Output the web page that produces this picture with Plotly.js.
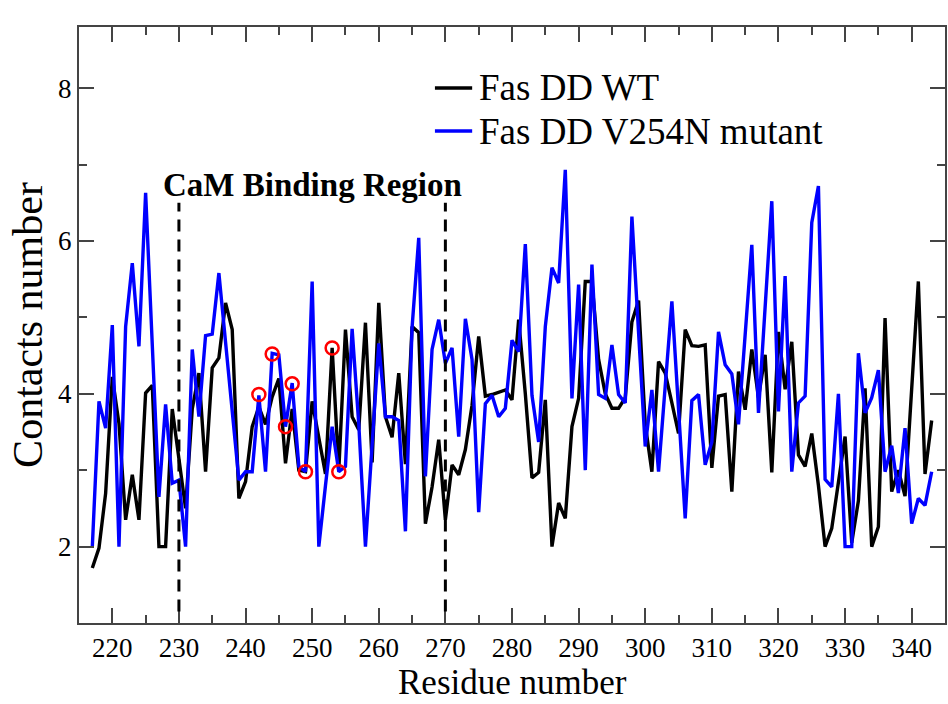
<!DOCTYPE html>
<html>
<head>
<meta charset="utf-8">
<script src="https://cdn.plot.ly/plotly-3.0.1.min.js"></script>
<style>html,body{margin:0;padding:0;background:#fff;}#chart{width:948px;height:704px;}</style>
</head>
<body>
<div id="chart"></div>
<script>
// Residue numbers
const residues = [];
for (let r = 217; r <= 343; r++) residues.push(r);

// Fas DD WT contacts
const wtContacts = [
  1.72, 1.98, 2.70, 4.22, 3.61, 2.35, 2.94, 2.35, 4.01, 4.11,
  2.00, 2.00, 3.80, 3.15, 2.50, 3.80, 4.27, 2.98, 4.34, 4.47,
  5.19, 4.84, 2.63, 2.85, 3.57, 3.83, 3.60, 3.96, 4.20, 3.09,
  3.80, 3.00, 2.98, 3.90, 3.40, 2.95, 4.60, 3.00, 4.84, 3.70,
  3.53, 4.93, 3.10, 5.19, 3.70, 3.43, 4.27, 3.08, 4.88, 4.80,
  2.30, 2.78, 3.40, 2.35, 3.07, 2.94, 3.27, 3.85, 4.75, 3.97,
  3.99, 4.02, 4.05, 3.92, 4.97, 4.00, 2.90, 2.97, 3.92, 2.00,
  2.57, 2.37, 3.57, 3.94, 5.47, 5.47, 4.45, 4.00, 3.81, 3.81,
  3.95, 4.94, 5.22, 3.60, 2.98, 4.42, 4.27, 3.88, 3.48, 4.84,
  4.63, 4.62, 4.64, 3.03, 3.97, 3.99, 2.72, 4.29, 3.79, 4.58,
  3.95, 4.51, 2.97, 4.81, 4.06, 4.68, 3.20, 3.05, 3.48, 2.80,
  2.00, 2.24, 2.85, 3.44, 2.05, 2.60, 4.07, 2.00, 2.26, 4.99,
  2.72, 3.00, 2.66, 4.10, 5.47, 2.95, 3.65
];

// Fas DD V254N mutant contacts
const mutContacts = [
  2.00, 3.90, 3.55, 4.90, 2.00, 4.88, 5.71, 4.62, 6.63, 4.60,
  2.65, 3.86, 2.83, 2.87, 2.00, 4.58, 3.70, 4.76, 4.78, 5.58,
  4.66, 3.79, 2.87, 2.98, 2.98, 3.98, 2.98, 4.53, 4.51, 3.57,
  4.14, 3.05, 2.98, 5.47, 2.00, 2.80, 3.57, 2.98, 3.05, 4.85,
  3.60, 2.00, 3.33, 4.66, 3.70, 3.70, 3.65, 2.20, 4.87, 6.04,
  2.92, 4.58, 4.97, 4.40, 4.60, 3.44, 4.98, 4.45, 2.45, 3.87,
  3.98, 3.70, 3.81, 4.70, 4.55, 5.96, 3.98, 3.37, 4.88, 5.65,
  5.45, 6.93, 3.94, 5.43, 3.00, 5.69, 3.99, 3.94, 4.64, 3.99,
  3.88, 6.32, 4.80, 3.31, 4.05, 2.98, 4.10, 5.21, 3.80, 2.37,
  3.91, 3.99, 3.07, 3.37, 4.81, 4.38, 4.26, 3.60, 4.77, 5.95,
  3.75, 5.10, 6.52, 3.77, 5.54, 2.98, 3.88, 3.97, 6.24, 6.72,
  2.88, 2.78, 4.00, 2.00, 2.00, 4.53, 3.75, 3.95, 4.31, 2.98,
  3.32, 2.70, 3.55, 2.30, 2.63, 2.54, 2.98
];

// Highlighted residues (red circles)
const circleResidues = [242, 244, 246, 247, 249, 253, 254];
const circleValues = [3.99, 4.52, 3.57, 4.13, 2.98, 4.60, 2.98];

// CaM binding region boundaries
const regionBounds = [230, 270];
const regionLineSpan = [1.15, 6.5];
const regionLabel = 'CaM Binding Region';

const seriesNames = ['Fas DD WT', 'Fas DD V254N mutant'];
const seriesColors = ['#000000', '#0000ff'];
const xTitle = 'Residue number';
const yTitle = 'Contacts number';

const serif = 'Liberation Serif';

const traces = [
  {x: residues, y: wtContacts, type: 'scatter', mode: 'lines', name: seriesNames[0],
   line: {color: seriesColors[0], width: 3.4}, showlegend: false},
  {x: residues, y: mutContacts, type: 'scatter', mode: 'lines', name: seriesNames[1],
   line: {color: seriesColors[1], width: 3.4}, showlegend: false},
  {x: circleResidues, y: circleValues, type: 'scatter', mode: 'markers', showlegend: false,
   marker: {symbol: 'circle-open', size: 13, color: '#ff0000', line: {width: 2.5, color: '#ff0000'}}}
];

// Legend (drawn in paper coordinates)
const legendRowsY = [0.8977, 0.8255];
const legendLineX = [0.411, 0.454];
const legendTextX = 0.461;

const shapes = regionBounds.map(b => ({
  type: 'line', xref: 'x', yref: 'y', x0: b, x1: b, y0: regionLineSpan[0], y1: regionLineSpan[1],
  line: {color: '#000', width: 3, dash: '12px,8px'}
}));
seriesNames.forEach((n, i) => {
  shapes.push({type: 'line', xref: 'paper', yref: 'paper',
    x0: legendLineX[0], x1: legendLineX[1], y0: legendRowsY[i], y1: legendRowsY[i],
    line: {color: seriesColors[i], width: 3.4}});
});

const annotations = [{
  x: (regionBounds[0] + regionBounds[1]) / 2, y: 6.73, xref: 'x', yref: 'y',
  text: '<b>' + regionLabel + '</b>', showarrow: false,
  font: {family: serif, size: 33, color: '#000'}
}, {
  x: 0.5, y: -0.0654, xref: 'paper', yref: 'paper', xanchor: 'center', yanchor: 'top',
  text: xTitle, showarrow: false, borderpad: 0,
  font: {family: serif, size: 35, color: '#000'}
}];
seriesNames.forEach((n, i) => {
  annotations.push({x: legendTextX, y: legendRowsY[i], xref: 'paper', yref: 'paper',
    xanchor: 'left', yanchor: 'middle', text: n, showarrow: false, borderpad: 0,
    font: {family: serif, size: 37, color: '#000'}});
});

const axisCommon = {
  showline: true, mirror: 'allticks', linecolor: '#444', linewidth: 2,
  ticks: 'inside', ticklen: 15, tickwidth: 2, tickcolor: '#444',
  showgrid: false, zeroline: false,
  tickfont: {family: serif, size: 27, color: '#000'}
};

const layout = {
  width: 948, height: 704,
  margin: {l: 79, r: 3, t: 27, b: 81},
  font: {family: serif, color: '#000'},
  paper_bgcolor: '#fff', plot_bgcolor: '#fff',
  xaxis: Object.assign({}, axisCommon, {
    range: [215, 345], dtick: 10, tick0: 0, ticklabelstandoff: 0,
    minor: {dtick: 5, ticklen: 8, tickwidth: 2, tickcolor: '#444', ticks: 'inside'}
  }),
  yaxis: Object.assign({}, axisCommon, {
    range: [1, 8.8], dtick: 2, tick0: 0,
    minor: {dtick: 1, ticklen: 8, tickwidth: 2, tickcolor: '#444', ticks: 'inside'},
    title: {text: yTitle, font: {family: serif, size: 42, color: '#000'}, standoff: 2}
  }),
  showlegend: false,
  shapes: shapes,
  annotations: annotations
};

Plotly.newPlot('chart', traces, layout, {displayModeBar: false, staticPlot: true});
</script>
</body>
</html>
